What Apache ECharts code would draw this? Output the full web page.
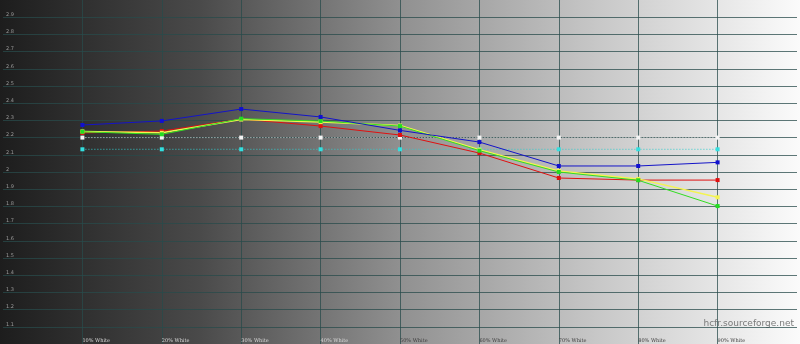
<!DOCTYPE html>
<html>
<head>
<meta charset="utf-8">
<script src="https://cdn.jsdelivr.net/npm/echarts@6/dist/echarts.min.js"></script>
<style>
  html, body { margin: 0; padding: 0; }
  #chart { width: 800px; height: 344px; }
</style>
</head>
<body>
<div id="chart"></div>
<script>
  // gamma readings per grey level
  let levels = [10, 20, 30, 40, 50, 60, 70, 80, 90]
  let redGamma = [2.227, 2.238, 2.308, 2.267, 2.215, 2.11, 1.965, 1.953, 1.953]
  let greenGamma = [2.234, 2.219, 2.31, 2.296, 2.267, 2.124, 2.0, 1.952, 1.802]
  let blueGamma = [2.273, 2.297, 2.366, 2.32, 2.242, 2.174, 2.035, 2.035, 2.056]
  let yellowGamma = [2.236, 2.228, 2.305, 2.29, 2.27, 2.13, 2.006, 1.96, 1.853]
  let targetGamma = [2.2, 2.2, 2.2, 2.2, 2.2, 2.2, 2.2, 2.2, 2.2]
  let refGamma = [2.132, 2.132, 2.132, 2.132, 2.132, 2.132, 2.132, 2.132, 2.132]

  function pairs (vals) {
    return levels.map(function (x, i) { return [x, vals[i]] })
  }

  let gridLine = {
    show: true,
    showMinLine: false,
    showMaxLine: false,
    lineStyle: { color: 'rgba(40,75,75,0.75)', width: 1 }
  }

  let charts = echarts.init(document.getElementById('chart'))
  charts.setOption({
    animation: false,
    backgroundColor: new echarts.graphic.LinearGradient(0, 0, 1, 0, [
      { offset: 0, color: '#1d1d1d' },
      { offset: 0.25, color: '#4a4a4a' },
      { offset: 0.5, color: '#909090' },
      { offset: 0.75, color: '#c8c8c8' },
      { offset: 1, color: '#fbfbfb' }
    ]),
    grid: { left: 0, right: 0, top: 0, bottom: 0 },
    graphic: [{
      type: 'text',
      right: 6,
      top: 319,
      style: { text: 'hcfr.sourceforge.net', fill: '#7a7a7a', font: '9px "DejaVu Sans"' }
    }],
    xAxis: {
      type: 'value',
      min: 0,
      max: 100,
      interval: 10,
      axisLine: { show: false },
      axisTick: { show: false },
      axisLabel: {
        inside: true,
        margin: 1,
        align: 'left',
        fontSize: 5,
        fontFamily: 'DejaVu Serif',
        color: function (val) {
          return val < 50 ? '#d8d8d8' : (val === 50 ? '#a8a8a8' : '#404040')
        },
        formatter: function (val) {
          return (val === 0 || val === 100) ? '' : val + '% White'
        }
      },
      splitLine: gridLine
    },
    yAxis: {
      type: 'value',
      min: 1,
      max: 3,
      interval: 0.1,
      axisLine: { show: false },
      axisTick: { show: false },
      axisLabel: {
        inside: true,
        margin: 3,
        verticalAlign: 'bottom',
        fontSize: 5,
        fontFamily: 'DejaVu Sans',
        color: '#9a9a9a',
        formatter: function (val) {
          let v = Math.round(val * 10) / 10
          return (v === 1 || v === 3) ? '' : String(v)
        }
      },
      splitLine: gridLine
    },
    series: [
      {
        name: 'target',
        type: 'line',
        data: pairs(targetGamma),
        symbol: 'rect',
        symbolSize: 4,
        itemStyle: { color: '#f4f4f4' },
        lineStyle: { color: '#dcdcdc', width: 1, type: [1, 2] }
      },
      {
        name: 'ref',
        type: 'line',
        data: pairs(refGamma),
        symbol: 'rect',
        symbolSize: 4,
        itemStyle: { color: '#33e0e0' },
        lineStyle: { color: '#33cccc', width: 1, type: [1, 2] }
      },
      {
        name: 'red',
        type: 'line',
        data: pairs(redGamma),
        symbol: 'rect',
        symbolSize: 4,
        itemStyle: { color: '#e01010' },
        lineStyle: { color: '#e01010', width: 1 }
      },
      {
        name: 'yellow',
        type: 'line',
        data: pairs(yellowGamma),
        symbol: 'rect',
        symbolSize: 4,
        itemStyle: { color: '#f4f450' },
        lineStyle: { color: '#f4f450', width: 1.5 }
      },
      {
        name: 'green',
        type: 'line',
        data: pairs(greenGamma),
        symbol: 'rect',
        symbolSize: 4,
        itemStyle: { color: '#22dd22' },
        lineStyle: { color: '#33dd22', width: 1 }
      },
      {
        name: 'blue',
        type: 'line',
        data: pairs(blueGamma),
        symbol: 'rect',
        symbolSize: 4,
        itemStyle: { color: '#1010d0' },
        lineStyle: { color: '#1414c8', width: 1 }
      }
    ]
  })
</script>
</body>
</html>
